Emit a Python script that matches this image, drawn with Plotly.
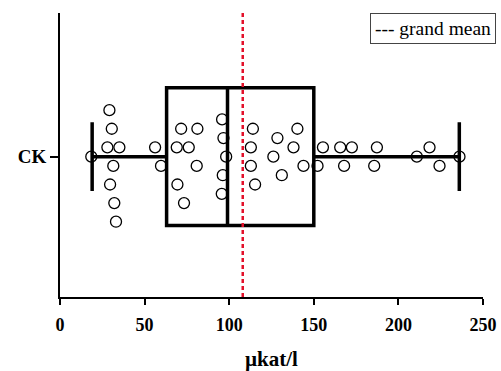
import plotly.graph_objects as go

# CK activity values (µkat/l) and their swarm row offsets
ck_values = [18.5, 29.2, 30.6, 28.0, 35.1, 31.5, 29.6, 32.1, 33.1,
             56.2, 59.7, 71.6, 81.2, 69.0, 76.1, 80.8, 69.4, 73.3,
             95.8, 96.6, 98.2, 96.2, 95.6,
             114.0, 112.8, 112.8, 115.3, 128.5, 140.3, 138.0, 126.1, 131.1,
             143.9, 152.2, 155.4, 165.6, 172.5, 167.9, 187.3, 185.7,
             210.9, 218.4, 224.3, 236.1]
ck_rows = [0, 5, 3, 1, 1, -1, -3, -5, -7,
           1, -1, 3, 3, 1, 1, -1, -3, -5,
           4, 2, 0, -2, -4,
           3, 1, -1, -3, 2, 3, 1, 0, -2,
           -1, -1, 1, 1, 1, -1, 1, -1,
           0, 1, -1, 0]

# box summary
q1, median, q3 = 63, 99, 150
lower_fence, upper_fence = 19, 236
grand_mean = 108

category = "CK"
x_ticks = [0, 50, 100, 150, 200, 250]

serif = "Liberation Serif"

fig = go.Figure()

fig.add_trace(go.Box(
    orientation="h",
    y=[0],
    q1=[q1], median=[median], q3=[q3],
    lowerfence=[lower_fence], upperfence=[upper_fence],
    width=14.8, whiskerwidth=0.5,
    line=dict(color="black", width=3.5),
    fillcolor="rgba(0,0,0,0)",
    boxpoints=False,
    showlegend=False,
))

fig.add_trace(go.Scatter(
    x=[grand_mean, grand_mean], y=[-15.1, 15.45],
    mode="lines",
    line=dict(color="#e3102a", width=2.5, dash="4px,3px"),
    showlegend=False,
))

fig.add_trace(go.Scatter(
    x=ck_values, y=ck_rows,
    mode="markers",
    marker=dict(symbol="circle-open", size=11, color="black",
                line=dict(width=1.3, color="black")),
    showlegend=False,
))

fig.add_annotation(
    xref="paper", yref="paper",
    x=1.03, y=1.0, xanchor="right", yanchor="top",
    text="--- grand mean",
    showarrow=False,
    font=dict(family=serif, size=19.5, color="black"),
    bordercolor="#444", borderwidth=1, borderpad=4,
    bgcolor="white",
)

fig.update_xaxes(
    range=[0, 250], tickvals=x_ticks,
    showline=True, linecolor="black", linewidth=2,
    ticks="outside", ticklen=6, tickwidth=2, tickcolor="black",
    showgrid=False, zeroline=False, automargin=False,
    ticklabelstandoff=4,
    tickfont=dict(family=serif, size=18, color="black", weight="bold"),
    title=dict(text="µkat/l", standoff=20,
               font=dict(family=serif, size=21, color="black", weight="bold")),
)
fig.update_yaxes(
    range=[-15.1, 15.45], tickvals=[0], ticktext=[category],
    showline=True, linecolor="black", linewidth=2,
    ticks="outside", ticklen=8, tickwidth=2, tickcolor="black",
    showgrid=False, zeroline=False, automargin=False,
    tickfont=dict(family=serif, size=19, color="black", weight="bold"),
)

fig.update_layout(
    width=501, height=371,
    margin=dict(l=60, r=18, t=13, b=74),
    paper_bgcolor="white", plot_bgcolor="white",
)

fig.write_html("out.html")
